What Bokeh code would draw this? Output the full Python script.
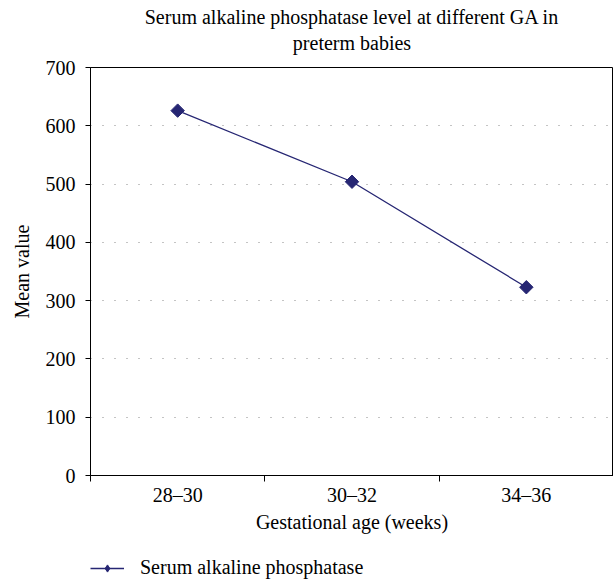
import math
from bokeh.plotting import figure
from bokeh.models import Range1d, FixedTicker, Legend, LegendItem, Title
from bokeh.layouts import column
from bokeh.embed import file_html
from bokeh.resources import INLINE

categories = ["28–30", "30–32", "34–36"]
mean_values = [626, 504, 323]
y_ticks = [0, 100, 200, 300, 400, 500, 600, 700]
series_name = "Serum alkaline phosphatase"
title_lines = ["Serum alkaline phosphatase level at different GA in", "preterm babies"]
x_label = "Gestational age (weeks)"
y_label = "Mean value"

FONT = "Liberation Serif"
FS = "20px"
NAVY = "#262673"
LINE_STYLE = dict(line_color=NAVY, line_width=1.3)
MARK_STYLE = dict(marker="square", angle=math.pi / 4, size=9.5, fill_color=NAVY, line_color=NAVY)
LEGEND_MARK_STYLE = dict(marker="diamond", size=13, fill_color=NAVY, line_color=NAVY)

xs = [i + 0.5 for i in range(len(categories))]
bounds = [float(i) for i in range(len(categories) + 1)]

p = figure(width=614, height=537, output_backend="svg", toolbar_location=None,
           x_range=Range1d(0, len(categories)), y_range=Range1d(y_ticks[0], y_ticks[-1]),
           frame_width=523, frame_height=408,
           min_border_left=90, min_border_right=0, min_border_top=67, min_border_bottom=62,
           title=None)

# spacer nearest the frame, then the two title lines (first added is nearest)
p.add_layout(Title(text=" ", text_font_size="1px", standoff=9, offset=0), "above")
for i, t in enumerate(reversed(title_lines)):
    p.add_layout(Title(text=t, align="center", text_font=FONT, text_font_size=FS,
                       text_font_style="normal", text_color="black",
                       standoff=4 if i == 0 else 0, offset=0), "above")

p.outline_line_color = "black"
p.outline_line_width = 1
p.background_fill_color = "white"
p.border_fill_color = "white"

p.line(xs, mean_values, **LINE_STYLE)
p.scatter(xs, mean_values, **MARK_STYLE)

# axes
xa = p.xaxis[0]
xa.ticker = FixedTicker(ticks=xs, minor_ticks=bounds)
xa.major_label_overrides = {x: c for x, c in zip(xs, categories)}
xa.major_tick_out = 0
xa.major_tick_in = 0
xa.minor_tick_out = 6
xa.minor_tick_in = 0
xa.minor_tick_line_color = "black"
xa.axis_line_color = "black"
xa.major_label_text_font = FONT
xa.major_label_text_font_size = FS
xa.major_label_text_color = "black"
xa.major_label_standoff = 2
xa.axis_label = x_label
xa.axis_label_text_font = FONT
xa.axis_label_text_font_size = FS
xa.axis_label_text_font_style = "normal"
xa.axis_label_text_color = "black"
xa.axis_label_standoff = 2

ya = p.yaxis[0]
ya.ticker = FixedTicker(ticks=y_ticks)
ya.major_tick_out = 5
ya.major_tick_in = 0
ya.minor_tick_out = 0
ya.minor_tick_in = 0
ya.axis_line_color = "black"
ya.major_tick_line_color = "black"
ya.major_label_text_font = FONT
ya.major_label_text_font_size = FS
ya.major_label_text_color = "black"
ya.major_label_standoff = 10
ya.axis_label = y_label
ya.axis_label_text_font = FONT
ya.axis_label_text_font_size = FS
ya.axis_label_text_font_style = "normal"
ya.axis_label_text_color = "black"
ya.axis_label_standoff = 10

p.xgrid.grid_line_color = None
p.ygrid.grid_line_color = "#888888"
p.ygrid.grid_line_dash = "1 11"
p.ygrid.grid_line_width = 1

# legend strip below the chart (sample renderers hold a single non-drawn NaN point)
pl = figure(width=614, height=45, output_backend="svg", toolbar_location=None,
            x_range=Range1d(0, 1), y_range=Range1d(0, 1),
            frame_width=523, frame_height=45,
            min_border_left=90, min_border_right=0, min_border_top=0, min_border_bottom=0,
            title=None)
pl.axis.visible = False
pl.grid.visible = False
pl.outline_line_color = None
pl.border_fill_color = "white"
nan = [float("nan")]
lr = pl.line(nan, nan, **LINE_STYLE)
mr = pl.scatter(nan, nan, **LEGEND_MARK_STYLE)
legend = Legend(items=[LegendItem(label=series_name, renderers=[lr, mr], index=0)],
                location=(0, 3), orientation="horizontal",
                label_text_font=FONT, label_text_font_size=FS, label_text_color="black",
                glyph_width=34, glyph_height=18, label_standoff=16,
                padding=0, margin=0, spacing=0,
                border_line_color=None, background_fill_alpha=0)
pl.add_layout(legend, "center")

layout = column(p, pl, spacing=0)
open("out.html", "w").write(file_html(layout, INLINE))
